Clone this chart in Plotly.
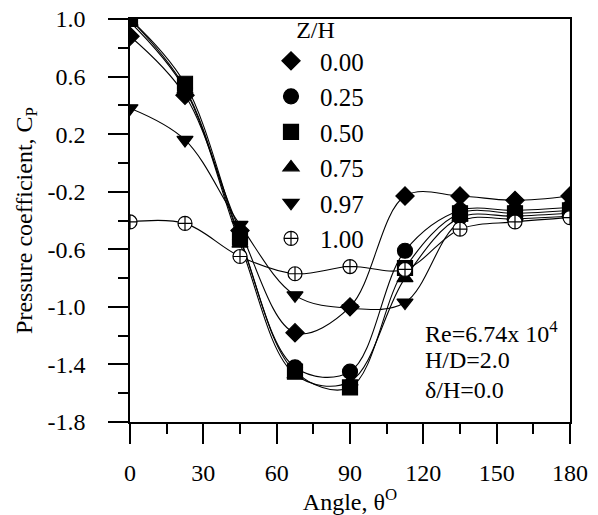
import plotly.graph_objects as go

# ---- data -------------------------------------------------------------
theta = [0, 22.5, 45, 67.5, 90, 112.5, 135, 157.5, 180]

zh_labels = ["0.00", "0.25", "0.50", "0.75", "0.97", "1.00"]

cp_000 = [0.88, 0.47, -0.47, -1.18, -1.00, -0.23, -0.23, -0.26, -0.23]
cp_025 = [1.00, 0.52, -0.53, -1.42, -1.45, -0.61, -0.33, -0.33, -0.31]
cp_050 = [1.00, 0.55, -0.52, -1.45, -1.56, -0.73, -0.35, -0.35, -0.33]
cp_075 = [0.98, 0.51, -0.56, -1.47, -1.52, -0.80, -0.38, -0.37, -0.35]
cp_097 = [0.38, 0.16, -0.43, -0.92, -1.01, -0.97, -0.41, -0.39, -0.37]
cp_100 = [-0.41, -0.42, -0.65, -0.77, -0.72, -0.74, -0.46, -0.41, -0.38]

x_tickvals = [0, 30, 60, 90, 120, 150, 180]
x_ticktext = ["0", "30", "60", "90", "120", "150", "180"]
y_tickvals = [1.0, 0.6, 0.2, -0.2, -0.6, -1.0, -1.4, -1.8]
y_ticktext = ["1.0", "0.6", "0.2", "-0.2", "-0.6", "-1.0", "-1.4", "-1.8"]

notes = ["Re=6.74x 10<sup>4</sup>", "H/D=2.0", "\u03b4/H=0.0"]

# ---- styling ----------------------------------------------------------
FONT = "Liberation Serif, Times New Roman, serif"
series = [cp_000, cp_025, cp_050, cp_075, cp_097, cp_100]
symbols = ["diamond", "circle", "square", "triangle-up", "triangle-down", "circle-cross"]
fills = ["black", "black", "black", "black", "black", "white"]
sizes = [14, 15, 15, 14, 14, 14]

fig = go.Figure()
for lab, ys, sym, fc, sz in zip(zh_labels, series, symbols, fills, sizes):
    # curve (no legend entry)
    fig.add_trace(go.Scatter(
        x=theta, y=ys, mode="lines", showlegend=False, hoverinfo="skip",
        line=dict(color="black", width=1.1, shape="spline", smoothing=1.0),
    ))
    # measured points (legend shows marker only)
    fig.add_trace(go.Scatter(
        x=theta, y=ys, name=lab, mode="markers", legendgroup=lab,
        marker=dict(symbol=sym, size=sz, color=fc,
                    line=dict(color="black", width=1.2)),
    ))

axis_common = dict(
    showline=True, linecolor="black", linewidth=1.5, mirror=True,
    ticks="outside", ticklen=20, tickwidth=1.5, tickcolor="black",
    showgrid=False, zeroline=False,
    tickfont=dict(family=FONT, size=24, color="black"),
)

fig.update_xaxes(
    range=[0, 180], tickmode="array", tickvals=x_tickvals, ticktext=x_ticktext,
    minor=dict(dtick=15, tick0=0, ticks="outside", ticklen=10, tickwidth=1.5,
               tickcolor="black"),
    title=dict(text="Angle, \u03b8<sup>O</sup>", standoff=0,
               font=dict(family=FONT, size=24, color="black")),
    ticklabelstandoff=8,
    **axis_common,
)
fig.update_yaxes(
    range=[-1.8, 1.0], tickmode="array", tickvals=y_tickvals, ticktext=y_ticktext,
    minor=dict(dtick=0.2, tick0=-1.8, ticks="outside", ticklen=10, tickwidth=1.5,
               tickcolor="black"),
    title=dict(text="Pressure coefficient, C<sub>P</sub>", standoff=8,
               font=dict(family=FONT, size=24, color="black")),
    ticklabelstandoff=18,
    **axis_common,
)

note_y = [0.2235, 0.154, 0.0795]
for txt, yy in zip(notes, note_y):
    fig.add_annotation(text=txt, xref="paper", yref="paper", x=0.666, y=yy,
                       xanchor="left", yanchor="middle", showarrow=False,
                       font=dict(family=FONT, size=24, color="black"))

fig.update_layout(
    width=598, height=515,
    margin=dict(l=130, r=28, t=19, b=93, autoexpand=False),
    paper_bgcolor="white", plot_bgcolor="white",
    font=dict(family=FONT, size=24, color="black"),
    showlegend=True,
    legend=dict(
        x=0.30, y=1.03, xanchor="left", yanchor="top",
        bgcolor="rgba(0,0,0,0)", borderwidth=0,
        title=dict(text="Z/H", side="top center",
                   font=dict(family=FONT, size=24, color="black")),
        font=dict(family=FONT, size=25, color="black"),
        itemwidth=48, tracegroupgap=0, itemsizing="trace",
        traceorder="normal",
    ),
)

fig.write_html("out.html")
